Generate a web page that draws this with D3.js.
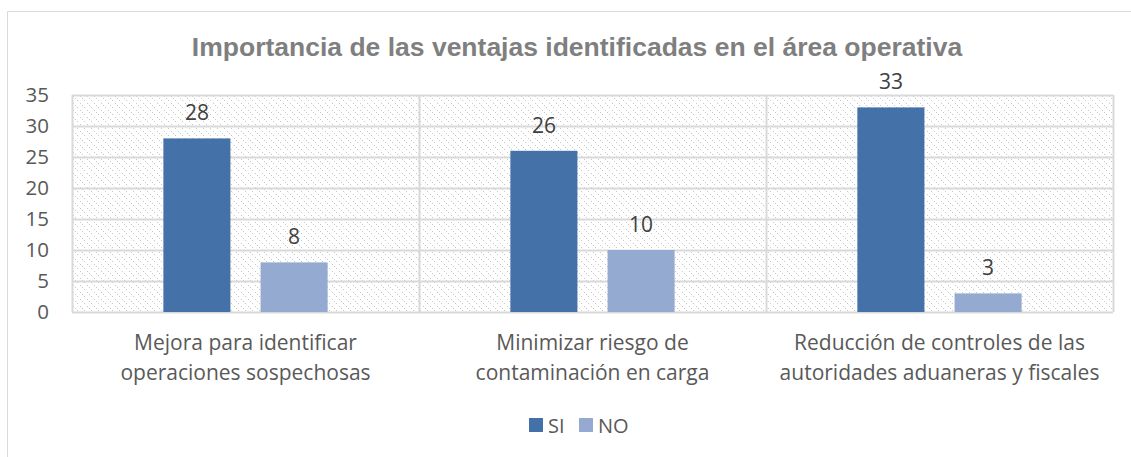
<!DOCTYPE html>
<html>
<head>
<meta charset="utf-8">
<script src="https://cdn.jsdelivr.net/npm/d3@7"></script>
<style>
  body { margin: 0; background: #fff; }
  text { font-family: "Open Sans", "Noto Sans", sans-serif; }
</style>
</head>
<body>
<script>
// Data
const categories = [
  ["Mejora para identificar", "operaciones sospechosas"],
  ["Minimizar riesgo de", "contaminación en carga"],
  ["Reducción de controles de las", "autoridades aduaneras y fiscales"]
];
const seriesNames = ["SI", "NO"];
const siValues = [28, 26, 33];
const noValues = [8, 10, 3];
const yTicks = [0, 5, 10, 15, 20, 25, 30, 35];
const colors = ["#4472a8", "#95aad1"];

const W = 1131, H = 457;
const margin = { top: 95, right: 18, bottom: 145, left: 72 },
  width = W - margin.left - margin.right,
  height = H - margin.top - margin.bottom;

const svg = d3.select("body").append("svg")
  .attr("width", W)
  .attr("height", H);

// hatch pattern for plot background
const defs = svg.append("defs");
const pat = defs.append("pattern")
  .attr("id", "hatch")
  .attr("patternUnits", "userSpaceOnUse")
  .attr("width", 7).attr("height", 7);
pat.append("path")
  .attr("d", "M-1,-1 L8,8 M-1,6 L1,8 M6,-1 L8,1")
  .attr("stroke", "#c8c8c8")
  .attr("stroke-width", 1)
  .attr("stroke-dasharray", "1.5,1.3");

// outer frame (top and left visible)
svg.append("line").attr("x1", 7.5).attr("x2", W).attr("y1", 11.5).attr("y2", 11.5)
  .attr("stroke", "#d9d9d9");
svg.append("line").attr("x1", 7.5).attr("x2", 7.5).attr("y1", 11.5).attr("y2", H)
  .attr("stroke", "#d9d9d9");

// title
svg.append("text")
  .attr("x", 577).attr("y", 56)
  .attr("text-anchor", "middle")
  .style("font-family", "'Liberation Sans', Arial, sans-serif")
  .style("font-weight", "bold")
  .style("font-size", "26.5px")
  .attr("fill", "#7f7f7f")
  .text("Importancia de las ventajas identificadas en el área operativa");

const g = svg.append("g")
  .attr("transform", `translate(${margin.left},${margin.top})`);

const x0 = d3.scaleBand().domain(d3.range(categories.length)).range([0, width]);
const x1 = d3.scaleBand().domain(seriesNames).range([0, x0.bandwidth()])
  .paddingInner(0.31).paddingOuter(0.94);
const y = d3.scaleLinear().domain([0, 35]).range([height, 0]);

// background
g.append("rect").attr("width", width).attr("height", height).attr("fill", "url(#hatch)");

// gridlines
g.selectAll(".grid").data(yTicks).enter().append("line")
  .attr("x1", 0).attr("x2", width)
  .attr("y1", d => Math.round(y(d)) + 0.5).attr("y2", d => Math.round(y(d)) + 0.5)
  .attr("stroke", "#d9d9d9").attr("stroke-width", 2);

// category separators and sides
g.selectAll(".sep").data(d3.range(categories.length + 1)).enter().append("line")
  .attr("x1", d => Math.round(d * x0.step()) + 0.5)
  .attr("x2", d => Math.round(d * x0.step()) + 0.5)
  .attr("y1", 0).attr("y2", height)
  .attr("stroke", "#d9d9d9").attr("stroke-width", 2);

// bars
const rows = categories.map((c, i) => ({ i, values: [siValues[i], noValues[i]] }));
const grp = g.selectAll(".cat").data(rows).enter().append("g")
  .attr("transform", d => `translate(${x0(d.i)},0)`);

grp.selectAll("rect").data(d => d.values.map((v, k) => ({ k, v }))).enter().append("rect")
  .attr("x", d => x1(seriesNames[d.k]))
  .attr("width", x1.bandwidth())
  .attr("y", d => y(d.v))
  .attr("height", d => y(0) - y(d.v))
  .attr("fill", d => colors[d.k]);

grp.selectAll(".lbl").data(d => d.values.map((v, k) => ({ k, v }))).enter().append("text")
  .attr("x", d => x1(seriesNames[d.k]) + x1.bandwidth() / 2)
  .attr("y", d => y(d.v) - 18)
  .attr("text-anchor", "middle")
  .style("font-size", "21px")
  .attr("fill", "#404040")
  .text(d => d.v);

// y axis labels
const yAxis = d3.axisLeft(y).tickValues(yTicks).tickSize(0).tickPadding(23);
g.append("g").call(yAxis)
  .call(s => s.select(".domain").remove())
  .call(s => s.selectAll("text")
    .style("font-family", "'Open Sans', sans-serif")
    .style("font-size", "20.5px")
    .attr("fill", "#595959"));

// category labels
const xl = g.selectAll(".xl").data(categories).enter().append("text")
  .attr("text-anchor", "middle")
  .attr("transform", (d, i) => `translate(${x0(i) + x0.bandwidth() / 2},${height + 38})`)
  .style("font-size", "21px")
  .attr("fill", "#595959");
xl.selectAll("tspan").data(d => d).enter().append("tspan")
  .attr("x", 0)
  .attr("dy", (d, i) => i === 0 ? 0 : 30)
  .text(d => d);

// legend
const legend = svg.append("g").attr("transform", "translate(529,418)");
const li = legend.selectAll("g").data(seriesNames).enter().append("g")
  .attr("transform", (d, i) => `translate(${i * 50},0)`);
li.append("rect").attr("width", 14).attr("height", 14).attr("fill", (d, i) => colors[i]);
li.append("text").attr("x", 19).attr("y", 15)
  .style("font-size", "20px")
  .attr("fill", "#595959")
  .text(d => d);
</script>
</body>
</html>
